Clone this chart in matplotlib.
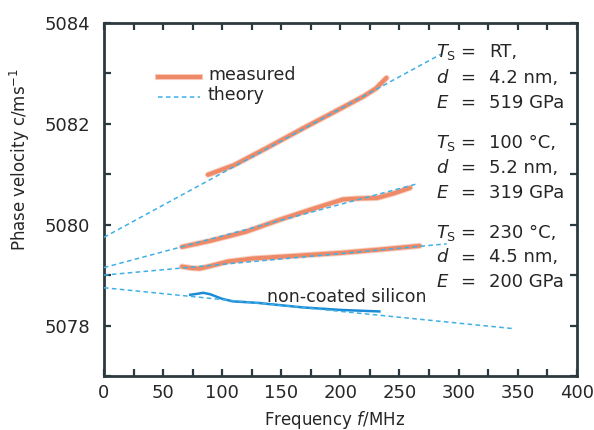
import numpy as np
import matplotlib
matplotlib.use('Agg')
import matplotlib.pyplot as plt
from matplotlib.ticker import MultipleLocator

# theory lines: (f start, v start), (f end, v end)
theory_rt = ([0, 285], [5079.75, 5083.38])
theory_100 = ([0, 265], [5079.15, 5080.81])
theory_230 = ([0, 290], [5079.0, 5079.62])
theory_si = ([0, 346], [5078.75, 5077.94])

# measured curves
meas_rt_f = [88, 110, 140, 170, 200, 220, 230, 239]
meas_rt_v = [5080.99, 5081.18, 5081.55, 5081.93, 5082.30, 5082.55, 5082.70, 5082.91]
meas_100_f = [66, 90, 120, 149, 175, 202, 215, 231, 245, 259]
meas_100_v = [5079.56, 5079.68, 5079.86, 5080.10, 5080.30, 5080.50, 5080.52, 5080.53, 5080.62, 5080.73]
meas_230_f = [66, 74, 81, 90, 105, 126, 160, 200, 235, 267]
meas_230_v = [5079.17, 5079.14, 5079.13, 5079.18, 5079.27, 5079.33, 5079.38, 5079.44, 5079.51, 5079.58]
meas_si_f = [73, 79, 84, 90, 100, 109, 130, 168, 200, 233]
meas_si_v = [5078.61, 5078.63, 5078.65, 5078.62, 5078.53, 5078.48, 5078.45, 5078.36, 5078.31, 5078.28]

labels = [
    ('$T_\\mathrm{S}$', 'RT,', 5083.43), ('$d$', '4.2 nm,', 5082.91), ('$E$', '519 GPa', 5082.42),
    ('$T_\\mathrm{S}$', '100 °C,', 5081.62), ('$d$', '5.2 nm,', 5081.13), ('$E$', '319 GPa', 5080.63),
    ('$T_\\mathrm{S}$', '230 °C,', 5079.84), ('$d$', '4.5 nm,', 5079.35), ('$E$', '200 GPa', 5078.87),
]

orange = '#ef8a68'
orange_soft = '#f4b29a'
blue_dash = '#3fb0e6'
blue_si = '#1c8bd6'
spine_col = '#2b3a3f'
txt_col = '#262626'

plt.rcParams['font.family'] = 'DejaVu Sans'
plt.rcParams['mathtext.fontset'] = 'dejavusans'

fig = plt.figure(figsize=(5.94, 4.30), dpi=100)
ax = fig.add_axes([0.175, 0.1256, 0.796, 0.821])

for (f, v) in [theory_rt, theory_100, theory_230, theory_si]:
    ax.plot(f, v, ls=(0, (3, 2.2)), color=blue_dash, lw=1.1, zorder=3)

for f, v in [(meas_rt_f, meas_rt_v), (meas_100_f, meas_100_v), (meas_230_f, meas_230_v)]:
    ax.plot(f, v, color=orange_soft, lw=4.4, alpha=0.6, solid_capstyle='round', zorder=1)
    ax.plot(f, v, color=orange, lw=3.0, solid_capstyle='round', zorder=2)
ax.plot(meas_si_f, meas_si_v, color=blue_si, lw=1.8, zorder=2)

ax.text(138, 5078.57, 'non-coated silicon', fontsize=12.5, color=txt_col, va='center', ha='left')

for var, val, y in labels:
    ax.text(281, y, var, fontsize=13, va='center', ha='left', color=txt_col)
    ax.text(308, y, '=', fontsize=13, va='center', ha='center', color=txt_col)
    ax.text(326, y, val, fontsize=13, va='center', ha='left', color=txt_col)

# legend drawn by hand in axes coords
ax.plot([0.114, 0.203], [0.847, 0.847], transform=ax.transAxes, color=orange_soft, lw=4.4, alpha=0.6)
ax.plot([0.114, 0.203], [0.847, 0.847], transform=ax.transAxes, color=orange, lw=3.0)
ax.plot([0.114, 0.203], [0.79, 0.79], transform=ax.transAxes, color=blue_dash, lw=1.1, ls=(0, (3, 2.2)))
ax.text(0.22, 0.852, 'measured', transform=ax.transAxes, fontsize=12.5, va='center', color=txt_col)
ax.text(0.22, 0.795, 'theory', transform=ax.transAxes, fontsize=12.5, va='center', color=txt_col)

ax.set_xlim(0, 400)
ax.set_ylim(5077, 5084)
ax.xaxis.set_major_locator(MultipleLocator(50))
ax.xaxis.set_minor_locator(MultipleLocator(25))
ax.yaxis.set_major_locator(MultipleLocator(2))
ax.yaxis.set_minor_locator(MultipleLocator(1))
ax.tick_params(which='both', direction='in', top=True, right=True, width=1.6,
               color=spine_col, labelsize=13, labelcolor=txt_col)
ax.tick_params(which='major', length=5)
ax.tick_params(which='minor', length=5)
ax.tick_params(axis='y', which='major', pad=10)
ax.tick_params(axis='x', which='major', pad=6)
for s in ax.spines.values():
    s.set_linewidth(2.0)
    s.set_color(spine_col)

ax.set_xlabel('Frequency $f$/MHz', fontsize=12, color=txt_col)
ax.set_ylabel('Phase velocity c/ms$^{-1}$', fontsize=12, color=txt_col)
ax.xaxis.set_label_coords(0.488, -0.125)
ax.xaxis.label.set_va('center')
ax.yaxis.set_label_coords(-0.178, 0.612)
ax.yaxis.label.set_va('center')

fig.savefig('out.png', dpi=100)
